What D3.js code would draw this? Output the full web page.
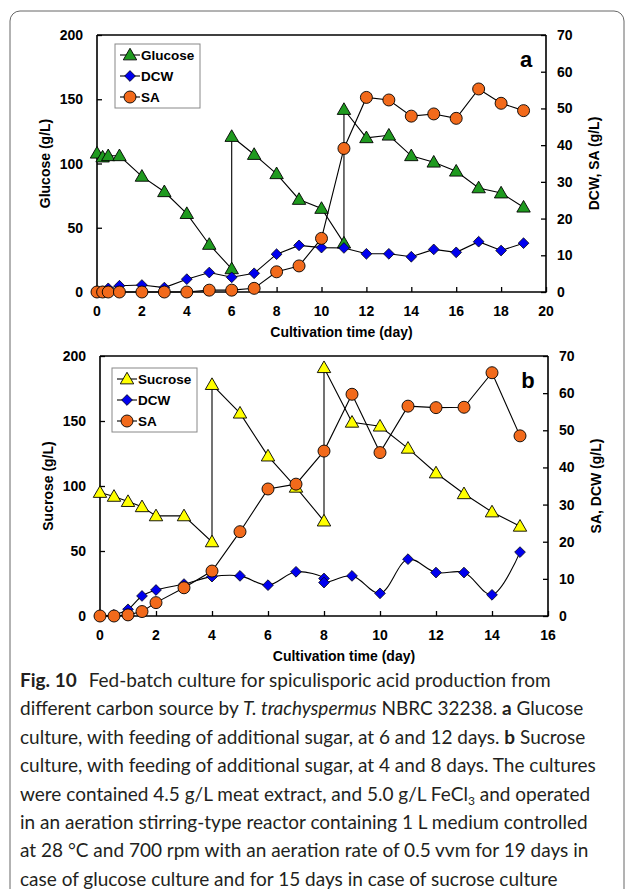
<!DOCTYPE html>
<html lang="en">
<head>
<meta charset="UTF-8">
<title>Fig. 10</title>
<style>
  body { margin: 0; background: #fff; }
  svg text { font-family: "Liberation Sans", Arial, sans-serif; }
</style>
</head>
<body>
<script src="https://d3js.org/d3.v7.min.js"></script>
<script>
// panel a: glucose culture
const glcDays = [0, 0.25, 0.5, 1, 2, 3, 4, 5, 6, 6, 7, 8, 9, 10, 11, 11, 12, 13, 14, 15, 16, 17, 18, 19];
const glucose = [108, 105, 106, 106, 90, 78, 61, 37, 18, 121, 107, 92, 72, 65, 38, 142, 120, 122, 106, 101, 94, 81, 77, 66];
const daysA = [0, 0.25, 0.5, 1, 2, 3, 4, 5, 6, 7, 8, 9, 10, 11, 12, 13, 14, 15, 16, 17, 18, 19];
const dcwA = [0, 0.2, 1, 1.7, 1.9, 1.2, 3.5, 5.3, 4.0, 5.1, 10.3, 12.7, 12.1, 12.0, 10.4, 10.4, 9.6, 11.6, 10.8, 13.7, 11.3, 13.3];
const saA = [0, 0, 0, 0, 0, 0, 0, 0.5, 0.5, 1.0, 5.5, 7.1, 14.6, 39.1, 53.0, 52.3, 47.9, 48.5, 47.3, 55.3, 51.4, 49.4];

// panel b: sucrose culture
const sucDays = [0, 0.5, 1, 1.5, 2, 3, 4, 4, 5, 6, 7, 8, 8, 9, 10, 11, 12, 13, 14, 15];
const sucrose = [95, 92, 88, 84, 77, 77, 57, 178, 156, 123, 99, 73, 191, 149, 146, 129, 110, 94, 80, 69];
const daysB = [0, 0.5, 1, 1.5, 2, 3, 4, 5, 6, 7, 8, 9, 10, 11, 12, 13, 14, 15];
const saB = [0, 0, 0.3, 1.2, 3.6, 7.6, 12.1, 22.7, 34.2, 35.5, 44.4, 59.7, 44.0, 56.5, 56.1, 56.2, 65.5, 48.5];
const dcwDaysB = [0, 0.5, 1, 1.5, 2, 3, 4, 5, 6, 7, 8, 8, 9, 10, 11, 12, 13, 14, 15];
const dcwB = [0, 0.3, 1.8, 5.4, 7.0, 8.6, 10.6, 10.8, 8.3, 11.9, 10.1, 9.0, 10.8, 6.1, 15.3, 11.7, 11.7, 5.7, 17.2];

const leftTicks = [0, 50, 100, 150, 200];
const rightTicks = [0, 10, 20, 30, 40, 50, 60, 70];

const W = 629, H = 889;
const svg = d3.select("body").append("svg").attr("width", W).attr("height", H);

// figure frame
svg.append("rect")
  .attr("x", 10).attr("y", 11).attr("width", 614).attr("height", 900)
  .attr("rx", 10).attr("fill", "none").attr("stroke", "#666").attr("stroke-width", 1);

const zip = (xs, ys) => xs.map((d, i) => [d, ys[i]]);

function panel(cfg) {
  const x = d3.scaleLinear().domain([0, cfg.xmax]).range([cfg.x0, cfg.x1]);
  const yl = d3.scaleLinear().domain([0, 200]).range([cfg.y0, cfg.y1]);
  const yr = d3.scaleLinear().domain([0, 70]).range([cfg.y0, cfg.y1]);
  const g = svg.append("g");

  // axes (ticks inward)
  g.append("g").attr("transform", `translate(0,${cfg.y0})`)
    .call(d3.axisTop(x).tickValues(d3.range(0, cfg.xmax + 1, 2)).tickSize(5).tickFormat(""));
  g.append("g").attr("transform", `translate(${cfg.x0},0)`)
    .call(d3.axisRight(yl).tickValues(leftTicks).tickSize(5).tickFormat(""));
  g.append("g").attr("transform", `translate(${cfg.x1},0)`)
    .call(d3.axisLeft(yr).tickValues(rightTicks).tickSize(5).tickFormat(""));
  g.selectAll(".domain").remove();
  g.selectAll(".tick line").attr("stroke", "#000").attr("stroke-width", 1.3);

  // box: left, bottom, right lines
  g.append("path")
    .attr("d", `M${cfg.x0},${cfg.y1}V${cfg.y0}H${cfg.x1}V${cfg.y1}`)
    .attr("fill", "none").attr("stroke", "#000").attr("stroke-width", 1.6);
  g.append("line").attr("x1", cfg.x0).attr("x2", cfg.x1).attr("y1", cfg.y1).attr("y2", cfg.y1)
    .attr("stroke", "#000").attr("stroke-width", 1.6);

  const lbl = { "font-size": 14, "font-weight": "bold", fill: "#000" };
  const apply = (s, o) => { for (const k in o) s.attr(k, o[k]); return s; };

  apply(g.selectAll(".xl").data(d3.range(0, cfg.xmax + 1, 2)).join("text"), lbl)
    .attr("x", d => x(d)).attr("y", cfg.y0 + 24).attr("text-anchor", "middle").text(d => d);
  apply(g.selectAll(".yl").data(leftTicks).join("text"), lbl)
    .attr("x", cfg.x0 - 14).attr("y", d => yl(d) + 5).attr("text-anchor", "end").text(d => d);
  apply(g.selectAll(".yr").data(rightTicks).join("text"), lbl)
    .attr("x", cfg.x1 + 11).attr("y", d => yr(d) + 5).attr("text-anchor", "start").text(d => d);

  apply(g.append("text"), lbl).attr("x", (cfg.x0 + cfg.x1) / 2 + 20).attr("y", cfg.y0 + 45)
    .attr("text-anchor", "middle").text("Cultivation time (day)");
  apply(g.append("text"), lbl).attr("text-anchor", "middle")
    .attr("transform", `translate(${cfg.x0 - 47},${(cfg.y0 + cfg.y1) / 2}) rotate(-90)`)
    .text(cfg.leftTitle);
  apply(g.append("text"), lbl).attr("text-anchor", "middle")
    .attr("transform", `translate(${cfg.x1 + 53},${(cfg.y0 + cfg.y1) / 2}) rotate(-90)`)
    .text(cfg.rightTitle);
  g.append("text").attr("x", cfg.x1 - 20).attr("y", cfg.y1 + 32).attr("text-anchor", "middle")
    .attr("font-size", 22).attr("font-weight", "bold").text(cfg.tag);

  const lineL = d3.line().x(d => x(d[0])).y(d => yl(d[1]));
  const lineR = d3.line().x(d => x(d[0])).y(d => yr(d[1]));
  const lineRs = d3.line().x(d => x(d[0])).y(d => yr(d[1])).curve(d3.curveCatmullRom.alpha(0.5));

  const sugar = zip(cfg.sugarDays, cfg.sugar);
  const dcw = zip(cfg.dcwDays, cfg.dcw);
  const sa = zip(cfg.saDays, cfg.sa);

  const line = (data, gen) => g.append("path").attr("d", gen(data))
    .attr("fill", "none").attr("stroke", "#000").attr("stroke-width", 1.1);

  const tri = d3.symbol().type(d3.symbolTriangle).size(78);
  const dia = d3.symbol().type(d3.symbolSquare).size(58);

  const drawSa = () => {
    line(sa, lineR);
    g.selectAll(null).data(sa).join("circle")
      .attr("cx", d => x(d[0])).attr("cy", d => yr(d[1])).attr("r", 6)
      .attr("fill", "#f26a1b").attr("stroke", "#000").attr("stroke-width", 0.9);
  };
  const drawDcw = () => {
    line(dcw, cfg.smoothDcw ? lineRs : lineR);
    g.selectAll(null).data(dcw).join("path")
      .attr("d", dia).attr("transform", d => `translate(${x(d[0])},${yr(d[1])}) rotate(45)`)
      .attr("fill", "#0000ee").attr("stroke", "#000").attr("stroke-width", 0.7);
  };
  const drawSugar = () => {
    line(sugar, lineL);
    g.selectAll(null).data(sugar).join("path")
      .attr("d", tri).attr("transform", d => `translate(${x(d[0])},${yl(d[1]) + 1})`)
      .attr("fill", cfg.sugarColor).attr("stroke", "#000").attr("stroke-width", 0.9);
  };
  drawSugar(); drawDcw(); drawSa();

  // legend
  const L = cfg.legend;
  g.append("rect").attr("x", L.x).attr("y", L.y).attr("width", 85).attr("height", 64)
    .attr("fill", "#fff").attr("stroke", "#888").attr("stroke-width", 1);
  const items = [
    { name: cfg.sugarName, kind: "tri" },
    { name: "DCW", kind: "dia" },
    { name: "SA", kind: "circ" }
  ];
  items.forEach((it, i) => {
    const cy = L.y + 11 + i * 21, cx = L.x + 15;
    g.append("line").attr("x1", cx - 10).attr("x2", cx + 10).attr("y1", cy).attr("y2", cy)
      .attr("stroke", "#000").attr("stroke-width", 1.1);
    if (it.kind === "tri") {
      g.append("path").attr("d", tri).attr("transform", `translate(${cx},${cy + 1})`)
        .attr("fill", cfg.sugarColor).attr("stroke", "#000").attr("stroke-width", 0.9);
    } else if (it.kind === "dia") {
      g.append("path").attr("d", dia).attr("transform", `translate(${cx},${cy}) rotate(45)`)
        .attr("fill", "#0000ee").attr("stroke", "#000").attr("stroke-width", 0.7);
    } else {
      g.append("circle").attr("cx", cx).attr("cy", cy).attr("r", 6)
        .attr("fill", "#f26a1b").attr("stroke", "#000").attr("stroke-width", 0.9);
    }
    g.append("text").attr("x", cx + 11).attr("y", cy + 5).attr("font-size", 13.5)
      .attr("font-weight", "bold").text(it.name);
  });
}

panel({
  x0: 97, x1: 546, y0: 292, y1: 35, xmax: 20, tag: "a",
  leftTitle: "Glucose (g/L)", rightTitle: "DCW, SA (g/L)",
  sugarDays: glcDays, sugar: glucose, sugarName: "Glucose", sugarColor: "#1f9a1f",
  dcwDays: daysA, dcw: dcwA, saDays: daysA, sa: saA, smoothDcw: false,
  legend: { x: 115, y: 44 }
});

panel({
  x0: 100, x1: 548, y0: 616, y1: 356, xmax: 16, tag: "b",
  leftTitle: "Sucrose (g/L)", rightTitle: "SA, DCW (g/L)",
  sugarDays: sucDays, sugar: sucrose, sugarName: "Sucrose", sugarColor: "#ffff00",
  dcwDays: dcwDaysB, dcw: dcwB, saDays: daysB, sa: saB, smoothDcw: true,
  legend: { x: 112, y: 368 }
});

// caption
const capLines = [
  [{ t: "Fig. 10", b: 1 }, { t: "\u2002\u2009Fed-batch culture for spiculisporic acid production from" }],
  [{ t: "different carbon source by " }, { t: "T. trachyspermus", i: 1 }, { t: " NBRC 32238. " }, { t: "a", b: 1 }, { t: " Glucose" }],
  [{ t: "culture, with feeding of additional sugar, at 6 and 12 days. " }, { t: "b", b: 1 }, { t: " Sucrose" }],
  [{ t: "culture, with feeding of additional sugar, at 4 and 8 days. The cultures" }],
  [{ t: "were contained 4.5 g/L meat extract, and 5.0 g/L FeCl" }, { t: "3", sub: 1 }, { t: " and operated", after: 1 }],
  [{ t: "in an aeration stirring-type reactor containing 1 L medium controlled" }],
  [{ t: "at 28 \u00b0C and 700 rpm with an aeration rate of 0.5 vvm for 19 days in" }],
  [{ t: "case of glucose culture and for 15 days in case of sucrose culture" }]
];
const cap = svg.append("g");
capLines.forEach((ln, i) => {
  const t = cap.append("text").attr("x", 20).attr("y", 687 + i * 28.4)
    .attr("font-size", 19).attr("fill", "#231f20")
    .style("font-family", "Lato, 'Open Sans', sans-serif");
  ln.forEach(s => {
    const sp = t.append("tspan").text(s.t);
    if (s.b) sp.attr("font-weight", "bold");
    if (s.i) sp.attr("font-style", "italic");
    if (s.sub) sp.attr("font-size", 12).attr("dy", 4);
    if (s.after) sp.attr("dy", -4);
  });
});
</script>
</body>
</html>
